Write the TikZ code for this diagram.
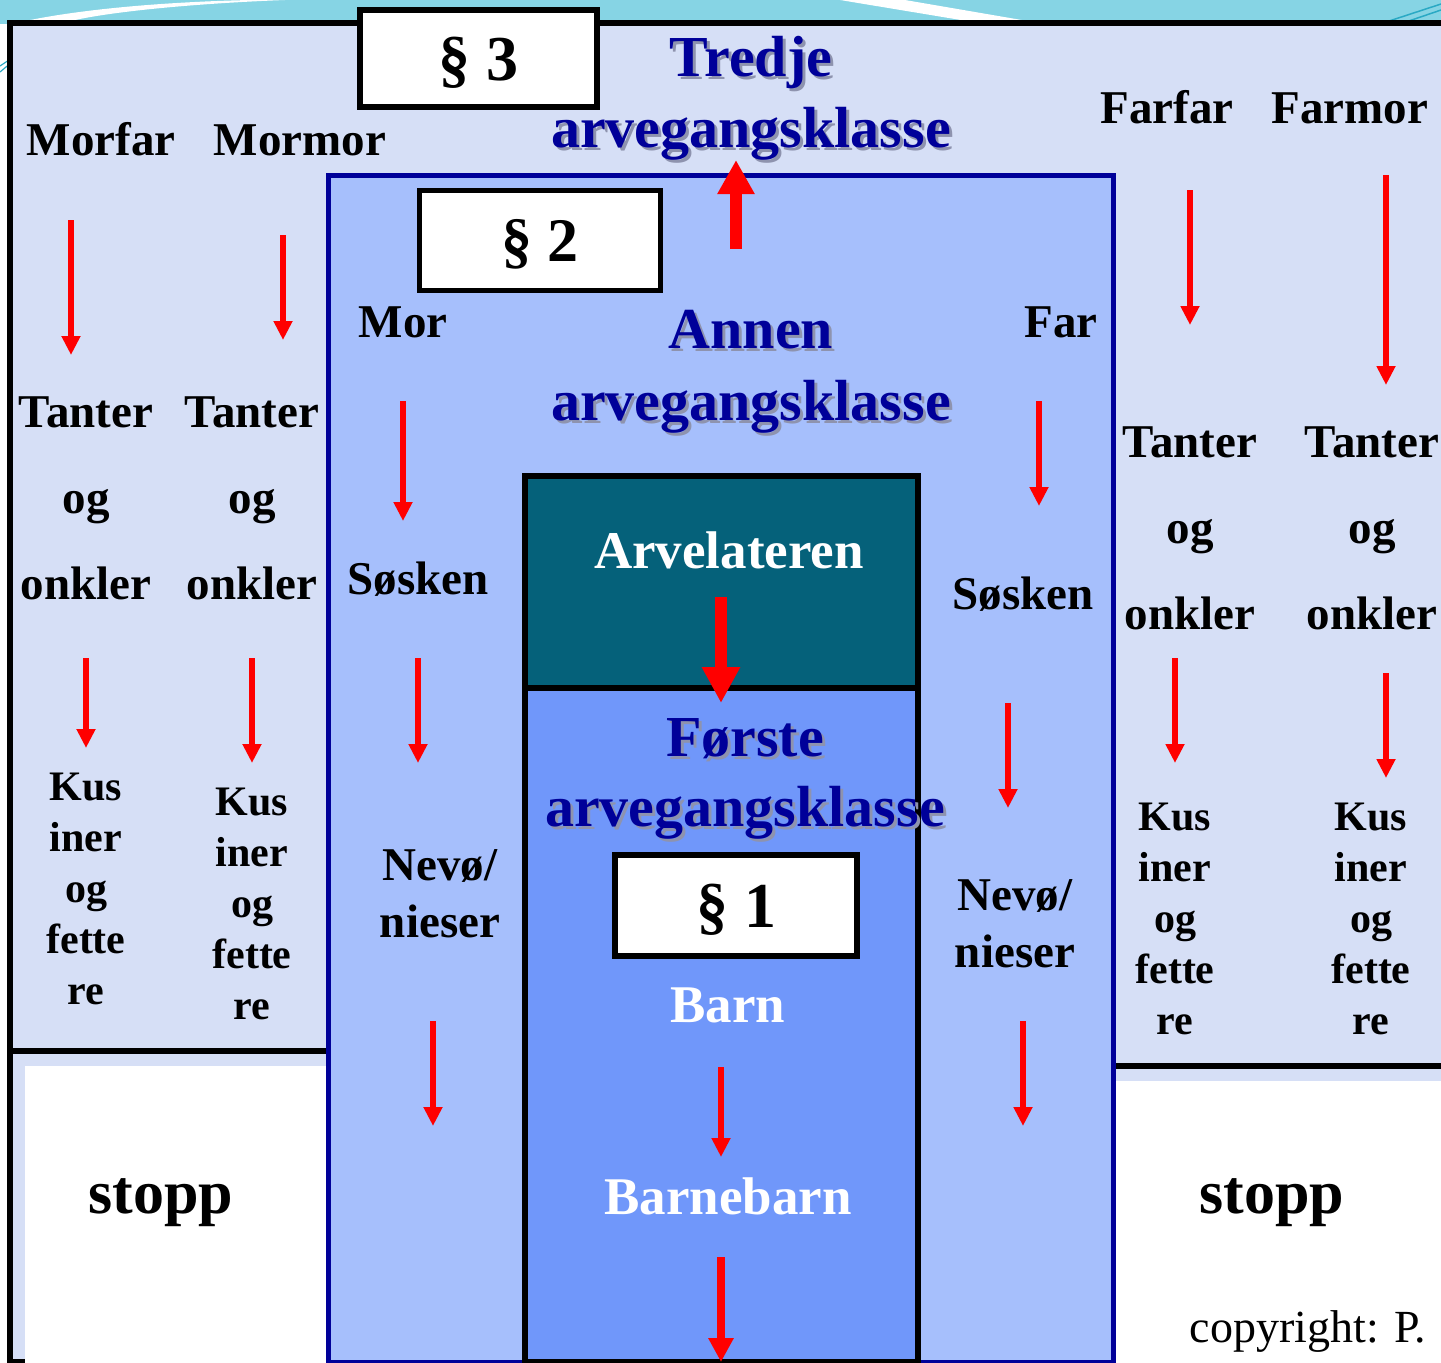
\documentclass[tikz,border=0pt]{standalone}
\usepackage{fontspec}
\setmainfont{Liberation Serif}
\usetikzlibrary{arrows.meta}
\definecolor{lav}{HTML}{D6DFF6}
\definecolor{peri}{HTML}{A6BFFC}
\definecolor{navy}{HTML}{000099}
\definecolor{cornflower}{HTML}{7097FA}
\definecolor{petrol}{HTML}{05617A}
\definecolor{sky}{HTML}{86D4E4}
\definecolor{deepsky}{HTML}{2AA9C4}
\definecolor{shade}{HTML}{8E93AE}
% title text with a soft drop shadow behind it
\newcommand\shadowed[1]{\makebox[0pt][l]{\hspace{3pt}\raisebox{-3pt}{\textcolor{shade}{#1}}}#1}
\begin{document}
\begin{tikzpicture}[x=1pt,y=-1pt,
  word/.style={inner sep=0pt, anchor=base, font=\bfseries\fontsize{47}{56}\selectfont},
  stack/.style={inner sep=0pt, anchor=north, align=center, font=\bfseries\fontsize{47}{86}\selectfont},
  cousin/.style={inner sep=0pt, anchor=north, align=center, font=\bfseries\fontsize{42}{51}\selectfont},
  nephew/.style={inner sep=0pt, anchor=north, align=center, font=\bfseries\fontsize{47}{57}\selectfont},
  title/.style={inner sep=0pt, anchor=base, text=navy, font=\bfseries\fontsize{58}{60}\selectfont},
  inner/.style={inner sep=0pt, anchor=base, text=white, font=\bfseries\fontsize{53}{60}\selectfont},
  parbox/.style={draw=black, line width=6pt, fill=white, inner sep=0pt},
  partext/.style={inner sep=0pt, anchor=base, font=\bfseries\fontsize{64}{70}\selectfont},
  thinarrow/.style={draw=red, line width=6pt, -{Triangle[width=18pt,length=19pt]}},
  bigarrow/.style={draw=red, line width=12pt, -{Triangle[width=36pt,length=36pt]}},
  midarrow/.style={draw=red, line width=8pt, -{Triangle[width=24pt,length=24pt]}}
]
\useasboundingbox (0,0) rectangle (1441,1363);

% slide background with the swoosh along the top
\fill[white] (0,0) rectangle (1441,1363);
\fill[sky] (0,0) rectangle (1441,24);
\fill[white] (12,24) .. controls (70,10) and (160,2) .. (250,0) -- (285,0)
  .. controls (180,4) and (90,14) .. (60,24) -- cycle;
\fill[white] (840,0) -- (905,0) -- (1045,24) -- (985,24) -- cycle;
\draw[deepsky, line width=1.5pt] (1380,24) -- (1441,4);
\draw[deepsky, line width=1.5pt] (1400,24) -- (1441,10);
\draw[deepsky, line width=1.2pt] (0,72) -- (12,62);
\draw[deepsky, line width=1.2pt] (0,66) -- (12,58);

% third class: the outer frame
\draw[line width=6pt, fill=lav] (10,23) rectangle (1470,1362);
\draw[line width=6pt] (10,1051) -- (330,1051);
\draw[line width=6pt] (1112,1066) -- (1470,1066);
\fill[white] (25,1066) rectangle (328,1375);
\fill[white] (1113,1081) rectangle (1470,1375);

% second class
\draw[draw=navy, line width=5pt, fill=peri] (328,175) rectangle (1113,1362);

% first class and the deceased
\fill[cornflower] (525,476) rectangle (918,1362);
\fill[petrol] (525,476) rectangle (918,688);
\draw[line width=6pt] (525,688) -- (918,688);
\draw[line width=6pt] (525,1362) -- (525,476) -- (918,476) -- (918,1362) -- cycle;

% paragraph boxes
\node[parbox, minimum width=237pt, minimum height=97pt] (s3box) at (478.5,58.5) {};
\node[partext] (s3) at (478,80) {§ 3};
\node[parbox, minimum width=241pt, minimum height=100pt, line width=5pt] (s2box) at (539.5,240) {};
\node[partext, font=\bfseries\fontsize{62}{70}\selectfont] (s2) at (540,261) {§ 2};
\node[parbox, minimum width=242pt, minimum height=101pt] (s1box) at (736,905.5) {};
\node[partext] (s1) at (736,927) {§ 1};

% class titles
\node[title] (tredje) at (751,76) {\shadowed{Tredje}};
\node[title] (tredjek) at (751,147) {\shadowed{arvegangsklasse}};
\node[title] (annen) at (751,348) {\shadowed{Annen}};
\node[title] (annenk) at (751,420) {\shadowed{arvegangsklasse}};
\node[title] (forste) at (745,756) {\shadowed{Første}};
\node[title] (forstek) at (745,826) {\shadowed{arvegangsklasse}};

% grandparents' lines
\node[word] (morfar) at (101,155) {Morfar};
\node[word] (mormor) at (300,155) {Mormor};
\node[word] (farfar) at (1167,123) {Farfar};
\node[word] (farmor) at (1350,123) {Farmor};
\node[stack] (tanter1) at (86,397) {Tanter\\og\\onkler};
\node[stack] (tanter2) at (252,397) {Tanter\\og\\onkler};
\node[stack] (tanter3) at (1190,427) {Tanter\\og\\onkler};
\node[stack] (tanter4) at (1372,427) {Tanter\\og\\onkler};
\node[cousin] (kus1) at (86,773) {Kus\\iner\\og\\fette\\re};
\node[cousin] (kus2) at (252,788) {Kus\\iner\\og\\fette\\re};
\node[cousin] (kus3) at (1175,803) {Kus\\iner\\og\\fette\\re};
\node[cousin] (kus4) at (1371,803) {Kus\\iner\\og\\fette\\re};

% parents' lines
\node[word] (mor) at (403,337) {Mor};
\node[word] (far) at (1061,337) {Far};
\node[word] (sosken1) at (418,594) {Søsken};
\node[word] (sosken2) at (1023,609) {Søsken};
\node[nephew] (nevo1) at (440,849) {Nevø/\\nieser};
\node[nephew] (nevo2) at (1015,879) {Nevø/\\nieser};

% descendants
\node[inner] (arvelater) at (729,568) {Arvelateren};
\node[inner] (barn) at (728,1022) {Barn};
\node[inner] (barnebarn) at (728,1214) {Barnebarn};

% where the classes end
\node[word, font=\bfseries\fontsize{62}{70}\selectfont] (stopp1) at (161,1213) {stopp};
\node[word, font=\bfseries\fontsize{62}{70}\selectfont] (stopp2) at (1272,1213) {stopp};
\node[word, font=\fontsize{46}{50}\selectfont] (copy) at (1308,1342) {copyright: P.};

% arrow end points
\coordinate (m1a) at (71,220);   \coordinate (m1b) at (71,355);
\coordinate (m2a) at (283,235);  \coordinate (m2b) at (283,340);
\coordinate (m3a) at (86,658);   \coordinate (m3b) at (86,748);
\coordinate (m4a) at (252,658);  \coordinate (m4b) at (252,763);
\coordinate (f1a) at (1190,190); \coordinate (f1b) at (1190,325);
\coordinate (f2a) at (1386,175); \coordinate (f2b) at (1386,385);
\coordinate (f3a) at (1175,658); \coordinate (f3b) at (1175,763);
\coordinate (f4a) at (1386,673); \coordinate (f4b) at (1386,778);
\coordinate (p1a) at (403,401);  \coordinate (p1b) at (403,521);
\coordinate (p2a) at (418,658);  \coordinate (p2b) at (418,763);
\coordinate (p3a) at (433,1021); \coordinate (p3b) at (433,1126);
\coordinate (q1a) at (1039,401); \coordinate (q1b) at (1039,506);
\coordinate (q2a) at (1008,703); \coordinate (q2b) at (1008,808);
\coordinate (q3a) at (1023,1021);\coordinate (q3b) at (1023,1126);
\coordinate (upa) at (736,249);  \coordinate (upb) at (736,160);
\coordinate (ara) at (721,597);  \coordinate (arb) at (721,703);
\coordinate (ba) at (721,1067);  \coordinate (bb) at (721,1157);
\coordinate (da) at (721,1257);  \coordinate (db) at (721,1362);

\foreach \s/\e in {m1a/m1b,m2a/m2b,m3a/m3b,m4a/m4b,f1a/f1b,f2a/f2b,f3a/f3b,f4a/f4b,
  p1a/p1b,p2a/p2b,p3a/p3b,q1a/q1b,q2a/q2b,q3a/q3b,ba/bb}
  \draw[thinarrow] (\s) -- (\e);
\draw[bigarrow, -{Triangle[width=35pt,length=34pt]}] (upa) -- (upb);
\draw[bigarrow] (ara) -- (arb);
\draw[midarrow] (da) -- (db);
\end{tikzpicture}
\end{document}
